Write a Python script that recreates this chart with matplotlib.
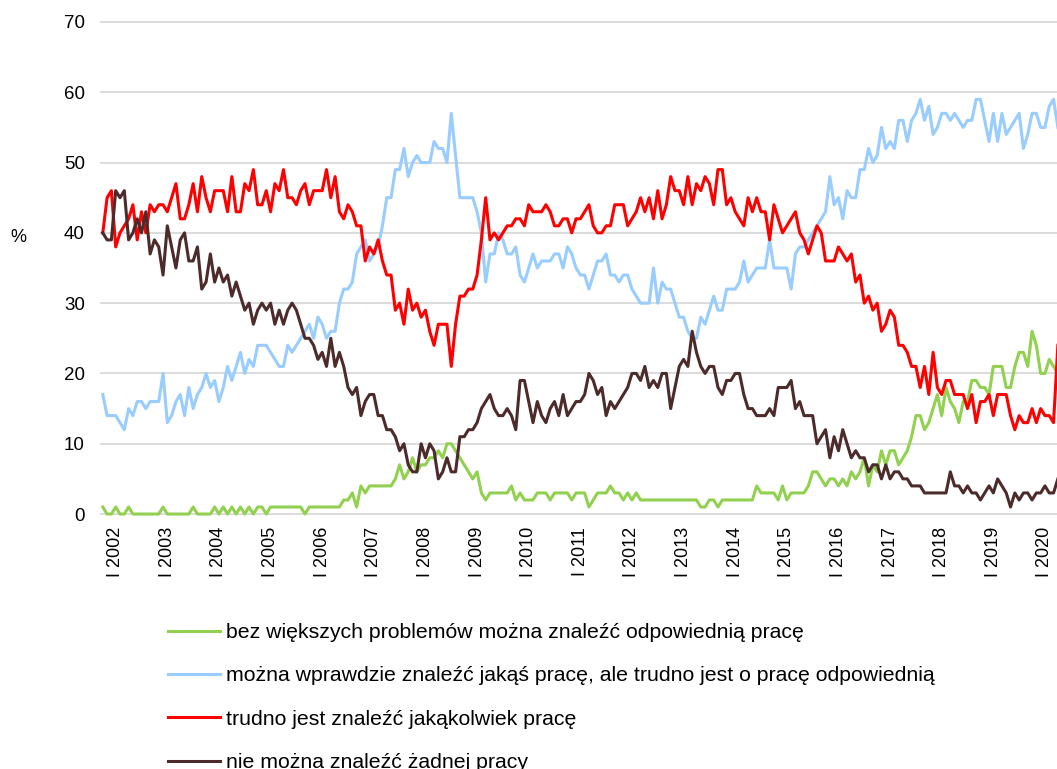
import matplotlib.pyplot as plt
import numpy as np

plt.rcParams['font.family'] = ['Liberation Sans', 'DejaVu Sans']

# monthly survey readings (%), X 2001 .. III 2020, last value lies past the right edge
bez_problemow = [1, 0, 0, 1, 0, 0, 1, 0, 0, 0, 0, 0, 0, 0, 1, 0, 0, 0, 0, 0, 0, 1, 0, 0, 0, 0, 1, 0, 1, 0, 1, 0, 1, 0, 1, 0, 1, 1,
                 0, 1, 1, 1, 1, 1, 1, 1, 1, 0, 1, 1, 1, 1, 1, 1, 1, 1, 2, 2, 3, 1, 4, 3, 4, 4, 4, 4, 4, 4, 5, 7, 5, 6, 8, 6, 7,
                 7, 8, 8, 9, 8, 10, 10, 9, 8, 7, 6, 5, 6, 3, 2, 3, 3, 3, 3, 3, 4, 2, 3, 2, 2, 2, 3, 3, 3, 2, 3, 3, 3, 3, 2, 3, 3, 3,
                 1, 2, 3, 3, 3, 4, 3, 3, 2, 3, 2, 3, 2, 2, 2, 2, 2, 2, 2, 2, 2, 2, 2, 2, 2, 2, 1, 1, 2, 2, 1, 2, 2, 2, 2, 2, 2, 2, 2,
                 4, 3, 3, 3, 3, 2, 4, 2, 3, 3, 3, 3, 4, 6, 6, 5, 4, 5, 5, 4, 5, 4, 6, 5, 6, 8, 4, 7, 6, 9, 7, 9, 9, 7, 8, 9, 11,
                 14, 14, 12, 13, 15, 17, 14, 18, 16, 15, 13, 16, 16, 19, 19, 18, 18, 17, 21, 21, 21, 18, 18, 21, 23, 23, 21, 26, 24, 20, 20, 22, 21, 20, 20,
                 13]

jakas_praca = [17, 14, 14, 14, 13, 12, 15, 14, 16, 16, 15, 16, 16, 16, 20, 13, 14, 16, 17, 14, 18, 15, 17, 18, 20, 18, 19, 16, 18, 21, 19, 21, 23, 20, 22, 21, 24, 24,
               24, 23, 22, 21, 21, 24, 23, 24, 25, 26, 27, 25, 28, 27, 25, 26, 26, 30, 32, 32, 33, 37, 38, 39, 36, 37, 38, 41, 45, 45, 49, 49, 52, 48, 50, 51, 50,
               50, 50, 53, 52, 52, 50, 57, 51, 45, 45, 45, 45, 43, 40, 33, 37, 37, 40, 39, 37, 37, 38, 34, 33, 35, 37, 35, 36, 36, 36, 37, 37, 35, 38, 37, 35, 34, 34,
               32, 34, 36, 36, 37, 34, 34, 33, 34, 34, 32, 31, 30, 30, 30, 35, 30, 33, 32, 32, 30, 28, 28, 26, 25, 25, 28, 27, 29, 31, 29, 29, 32, 32, 32, 33, 36,
               33, 34, 35, 35, 35, 39, 35, 35, 35, 35, 32, 37, 38, 38, 39, 40, 41, 42, 43, 48, 44, 45, 42, 46, 45, 45, 49, 49, 52, 50, 51, 55, 52, 53, 52, 56, 56,
               53, 56, 57, 59, 56, 58, 54, 55, 57, 57, 56, 57, 56, 55, 56, 56, 59, 59, 56, 53, 57, 53, 57, 54, 55, 56, 57, 52, 54, 57, 57, 55, 55, 58, 59,
               55]

trudno = [40, 45, 46, 38, 40, 41, 42, 44, 39, 43, 40, 44, 43, 44, 44, 43, 45, 47, 42, 42, 44, 47, 43, 48, 45, 43, 46, 46, 46, 43, 48, 43, 43, 47, 46, 49, 44, 44,
          46, 43, 47, 46, 49, 45, 45, 44, 46, 47, 44, 46, 46, 46, 49, 45, 48, 43, 42, 44, 43, 41, 41, 36, 38, 37, 39, 36, 34, 34, 29, 30, 27, 32, 29, 30, 28,
          29, 26, 24, 27, 27, 27, 21, 27, 31, 31, 32, 32, 34, 39, 45, 39, 40, 39, 40, 41, 41, 42, 42, 41, 44, 43, 43, 43, 44, 43, 41, 41, 42, 42, 40, 42, 42, 43,
          44, 41, 40, 40, 41, 41, 44, 44, 44, 41, 42, 43, 45, 43, 45, 42, 46, 42, 44, 48, 46, 46, 44, 48, 44, 47, 46, 48, 47, 44, 49, 49, 44, 45, 43, 42, 41,
          45, 43, 45, 43, 43, 39, 44, 42, 40, 41, 42, 43, 40, 39, 37, 39, 41, 40, 36, 36, 36, 38, 37, 36, 37, 33, 34, 30, 31, 29, 30, 26, 27, 29, 28, 24, 24,
          23, 21, 21, 18, 21, 17, 23, 18, 17, 19, 19, 17, 17, 17, 15, 17, 13, 16, 16, 17, 14, 17, 17, 17, 14, 12, 14, 13, 13, 15, 13, 15, 14, 14, 13,
          24]

zadnej = [40, 39, 39, 46, 45, 46, 39, 40, 42, 40, 43, 37, 39, 38, 34, 41, 38, 35, 39, 40, 36, 36, 38, 32, 33, 37, 33, 35, 33, 34, 31, 33, 31, 29, 30, 27, 29, 30,
          29, 30, 27, 29, 27, 29, 30, 29, 27, 25, 25, 24, 22, 23, 21, 25, 21, 23, 21, 18, 17, 18, 14, 16, 17, 17, 14, 14, 12, 12, 11, 9, 10, 7, 6, 6, 10,
          8, 10, 9, 5, 6, 8, 6, 6, 11, 11, 12, 12, 13, 15, 16, 17, 15, 14, 14, 15, 14, 12, 19, 19, 16, 13, 16, 14, 13, 15, 16, 14, 17, 14, 15, 16, 16, 17,
          20, 19, 17, 18, 14, 16, 15, 16, 17, 18, 20, 20, 19, 21, 18, 19, 18, 20, 20, 15, 18, 21, 22, 21, 26, 23, 21, 20, 21, 21, 18, 17, 19, 19, 20, 20, 17,
          15, 15, 14, 14, 14, 15, 14, 18, 18, 18, 19, 15, 16, 14, 14, 14, 10, 11, 12, 8, 11, 9, 12, 10, 8, 9, 8, 8, 6, 7, 7, 5, 7, 5, 6, 6, 5,
          5, 4, 4, 4, 3, 3, 3, 3, 3, 3, 6, 4, 4, 3, 4, 3, 3, 2, 3, 4, 3, 5, 4, 3, 1, 3, 2, 3, 3, 2, 3, 3, 4, 3, 3,
          5]

labels = ['bez większych problemów można znaleźć odpowiednią pracę',
          'można wprawdzie znaleźć jakąś pracę, ale trudno jest o pracę odpowiednią',
          'trudno jest znaleźć jakąkolwiek pracę',
          'nie można znaleźć żadnej pracy']
colors = ['#92d050', '#99ccff', '#ff0000', '#4d2b2b']

years = list(range(2002, 2021))
year_labels = ['I ' + str(y) for y in years]

W, H = 1057, 769
fig = plt.figure(figsize=(W / 100, H / 100), dpi=100)
ax = fig.add_axes([100 / W, 1 - 516 / H, 957 / W, 496 / H])

for series, lab, col in zip([bez_problemow, jakas_praca, trudno, zadnej], labels, colors):
    months = np.arange(-3, -3 + len(series))  # 0 = I 2002
    ax.plot(months, series, color=col, lw=2.2, label=lab, solid_joinstyle='round')

ax.set_xlim(-3.65, 218.8)
ax.set_ylim(-0.28, 70.28)
ax.set_yticks(np.arange(0, 71, 10))
ax.set_xticks([12 * (y - 2002) for y in years])
ax.set_xticklabels(year_labels, rotation=90, va='top', ha='center')
ax.tick_params(axis='y', length=0, pad=11, labelsize=13.5)
ax.tick_params(axis='x', length=0, pad=8, labelsize=13)
ax.yaxis.grid(True, color='#d9d9d9', lw=1.3)
ax.set_axisbelow(True)
for s in ax.spines.values():
    s.set_visible(False)

fig.text(10 / W, 1 - 237 / H, '%', fontsize=13, va='center', ha='left')

handles, labs = ax.get_legend_handles_labels()
fig.legend(handles, labs, loc='upper left', bbox_to_anchor=(168 / W, 1 - 623 / H),
           frameon=False, fontsize=15.3, handlelength=2.45, handletextpad=0.28,
           labelspacing=1.15, borderpad=0, borderaxespad=0)

fig.savefig('out.png', dpi=100)
